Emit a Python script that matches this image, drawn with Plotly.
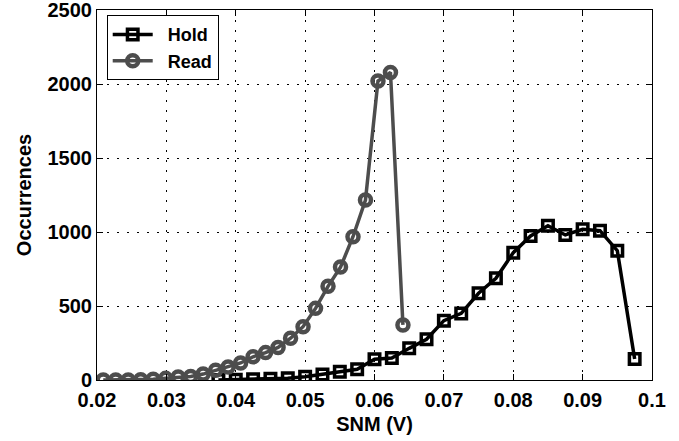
import plotly.graph_objects as go

hold_x = [0.0375, 0.04, 0.0425, 0.045, 0.0475, 0.05, 0.0525, 0.055, 0.0575,
          0.06, 0.0625, 0.065, 0.0675, 0.07, 0.0725, 0.075, 0.0775, 0.08,
          0.0825, 0.085, 0.0875, 0.09, 0.0925, 0.095, 0.0975]
hold_y = [0, 2, 5, 8, 12, 22, 38, 55, 72, 140, 148, 214, 275, 401, 450, 586,
          687, 860, 973, 1043, 980, 1018, 1009, 874, 142]

read_x = [0.0209, 0.0227, 0.0245, 0.0263, 0.0281, 0.0299, 0.0317, 0.0335,
          0.0353, 0.0371, 0.0389, 0.0407, 0.0425, 0.0443, 0.0461, 0.0479,
          0.0497, 0.0515, 0.0533, 0.0551, 0.0569, 0.0587, 0.0605, 0.0623,
          0.0641]
read_y = [0, 0, 0, 2, 5, 11, 20, 24, 40, 66, 88, 115, 157, 185, 220, 282,
          360, 484, 633, 763, 968, 1216, 2020, 2078, 372]

x_ticks = [0.02, 0.03, 0.04, 0.05, 0.06, 0.07, 0.08, 0.09, 0.1]
x_tick_text = ["0.02", "0.03", "0.04", "0.05", "0.06", "0.07", "0.08", "0.09", "0.1"]
y_ticks = [0, 500, 1000, 1500, 2000, 2500]
y_tick_text = ["0", "500", "1000", "1500", "2000", "2500"]

FONT = "Liberation Sans, Arial, Helvetica, sans-serif"
PAD = "\u00a0\u00a0"

fig = go.Figure()
fig.add_trace(go.Scatter(
    x=hold_x, y=hold_y, name=PAD + "Hold", mode="lines+markers",
    line=dict(color="black", width=3.5),
    marker=dict(symbol="square-open", size=10.5, color="black",
                line=dict(color="black", width=3.5)),
))
fig.add_trace(go.Scatter(
    x=read_x, y=read_y, name=PAD + "Read", mode="lines+markers",
    line=dict(color="#4d4d4d", width=3.5),
    marker=dict(symbol="circle-open", size=11, color="#4d4d4d",
                line=dict(color="#4d4d4d", width=4.5)),
))

axis_common = dict(
    showline=True, linecolor="black", linewidth=1, mirror="ticks",
    ticks="inside", ticklen=6, tickcolor="black", tickwidth=1,
    showgrid=True, gridcolor="black", gridwidth=1, griddash="2px,8px",
    zeroline=False, automargin=False, ticklabeloverflow="allow",
    tickfont=dict(family=FONT, size=20, color="black", weight="bold"),
)

fig.update_xaxes(
    range=[0.02, 0.1], tickvals=x_ticks, ticktext=x_tick_text,
    title=dict(text="SNM (V)", standoff=6,
               font=dict(family=FONT, size=20, color="black", weight="bold")),
    ticklabelstandoff=2,
    **axis_common,
)
fig.update_yaxes(
    range=[0, 2500], tickvals=y_ticks, ticktext=y_tick_text,
    title=dict(text="Occurrences", standoff=10,
               font=dict(family=FONT, size=20, color="black", weight="bold")),
    ticklabelstandoff=0,
    **axis_common,
)

fig.update_layout(
    width=679, height=441,
    margin=dict(l=97, r=27, t=10, b=61),
    paper_bgcolor="white", plot_bgcolor="white",
    showlegend=True,
    legend=dict(
        x=0.0175, y=0.986, xanchor="left", yanchor="top",
        bgcolor="white", bordercolor="black", borderwidth=1,
        font=dict(family=FONT, size=18, color="black", weight="bold"),
        tracegroupgap=0, itemwidth=40,
    ),
)

fig.write_html("out.html", config={"displayModeBar": False},
               post_script="document.body.style.margin='0px';")
